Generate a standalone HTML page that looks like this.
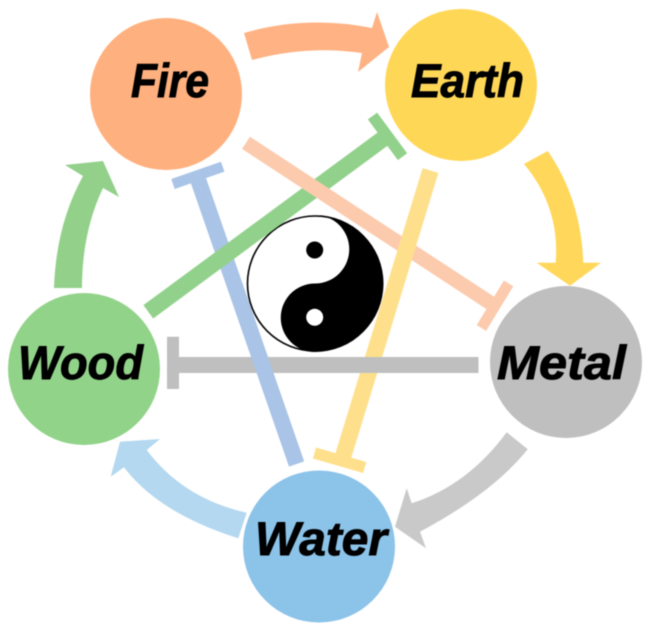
<!DOCTYPE html>
<html>
<head>
<meta charset="utf-8">
<style>
html,body{margin:0;padding:0;background:#fff;width:648px;height:632px;overflow:hidden}
svg{display:block;filter:blur(0.5px)}
text{font-family:"Liberation Sans",sans-serif;font-weight:bold;font-style:italic;font-size:47px;fill:#000;stroke:#000;stroke-width:.9px}
</style>
</head>
<body>
<svg width="648" height="632" viewBox="0 0 648 632" xmlns="http://www.w3.org/2000/svg">
  <rect width="648" height="632" fill="#fff"/>

  <!-- Curved generating arrows -->
  <path fill="#FFB283" d="M244,33 Q306,15 372,28 L377,12 L389,47 L358,72 L362,53 Q307,45 252,60 Z"/>
  <path fill="#FFD75A" d="M547.7,151 Q581,199 583.3,262.7 L601,262.7 L570,285.7 L536.7,262.7 L555.7,262.7 Q560,207 524,164 Z"/>
  <path fill="#C9C9C9" d="M527.7,449.3 Q492.6,493 420,531.7 L426,548.3 L395,526.7 L406.7,488.3 L411.7,503.3 Q467.4,485.6 506.7,432.3 Z"/>
  <path fill="#B4D8F0" d="M246.7,512.7 Q183.3,498.6 146.7,450 L160,439 L120,441.7 L110.7,476.7 L124,467.3 Q158.8,513.2 238.3,538.3 Z"/>
  <path fill="#93D18B" d="M54,288 Q56,225 83,176 L65,165 L103,161 L119,197 L103,188 Q82,232 82,288 Z"/>

  <!-- Yin yang -->
  <circle cx="315" cy="283.5" r="67.5" fill="#fff" stroke="#000" stroke-width="1.6"/>
  <path fill="#000" d="M315,215 A68.5,68.5 0 0 1 315,352 A34.25,34.25 0 0 1 315,283.5 A34.25,34.25 0 0 0 315,215 Z"/>
  <circle cx="314.7" cy="250" r="8.5" fill="#000"/>
  <circle cx="314.7" cy="317.3" r="8.5" fill="#fff"/>

  <!-- Inhibition lines -->
  <g fill="none" stroke-linecap="butt">
    <!-- gray -->
    <g stroke="#BFBFBF">
      <line x1="478.5" y1="365" x2="173" y2="365" stroke-width="16"/>
      <line x1="173" y1="336.7" x2="173" y2="389" stroke-width="12"/>
    </g>
    <!-- blue -->
    <g stroke="#A9C4E6">
      <line x1="296.6" y1="464" x2="196.5" y2="175" stroke-width="16"/>
      <line x1="173" y1="184" x2="222.7" y2="166.7" stroke-width="10.5"/>
    </g>
    <!-- green -->
    <g stroke="#92D18B">
      <line x1="148.3" y1="311.8" x2="387.5" y2="135.5" stroke-width="16.5"/>
      <line x1="372.5" y1="116" x2="402.5" y2="156.7" stroke-width="11.5"/>
    </g>
    <!-- peach -->
    <g stroke="#FCCBAE">
      <line x1="246" y1="142.8" x2="495" y2="306" stroke-width="14.5"/>
      <line x1="508.6" y1="283.4" x2="481.4" y2="328" stroke-width="11"/>
    </g>
    <!-- yellow -->
    <g stroke="#FEE08C">
      <line x1="430.5" y1="170.5" x2="342" y2="460" stroke-width="16.5"/>
      <line x1="314.5" y1="453" x2="364.7" y2="467.5" stroke-width="11.5"/>
    </g>
    <!-- gray redrawn above yellow -->
    <line x1="345" y1="365" x2="385" y2="365" stroke="#BFBFBF" stroke-width="16"/>
  </g>

  <!-- Nodes -->
  <circle cx="166" cy="94" r="76" fill="#FFB07F"/>
  <circle cx="461" cy="85" r="76" fill="#FFD757"/>
  <circle cx="566" cy="362" r="76" fill="#BFBFBF"/>
  <circle cx="84" cy="369" r="76" fill="#92D38A"/>
  <circle cx="319" cy="546.5" r="76" fill="#8CC3E8"/>

  <!-- Labels -->
  <text x="131" y="97" textLength="78" lengthAdjust="spacingAndGlyphs">Fire</text>
  <text x="411" y="97" textLength="113" lengthAdjust="spacingAndGlyphs">Earth</text>
  <text x="497" y="379" textLength="129" lengthAdjust="spacingAndGlyphs">Metal</text>
  <text x="18" y="379" textLength="125" lengthAdjust="spacingAndGlyphs">Wood</text>
  <text x="255" y="555" textLength="132" lengthAdjust="spacingAndGlyphs">Water</text>
</svg>
</body>
</html>
